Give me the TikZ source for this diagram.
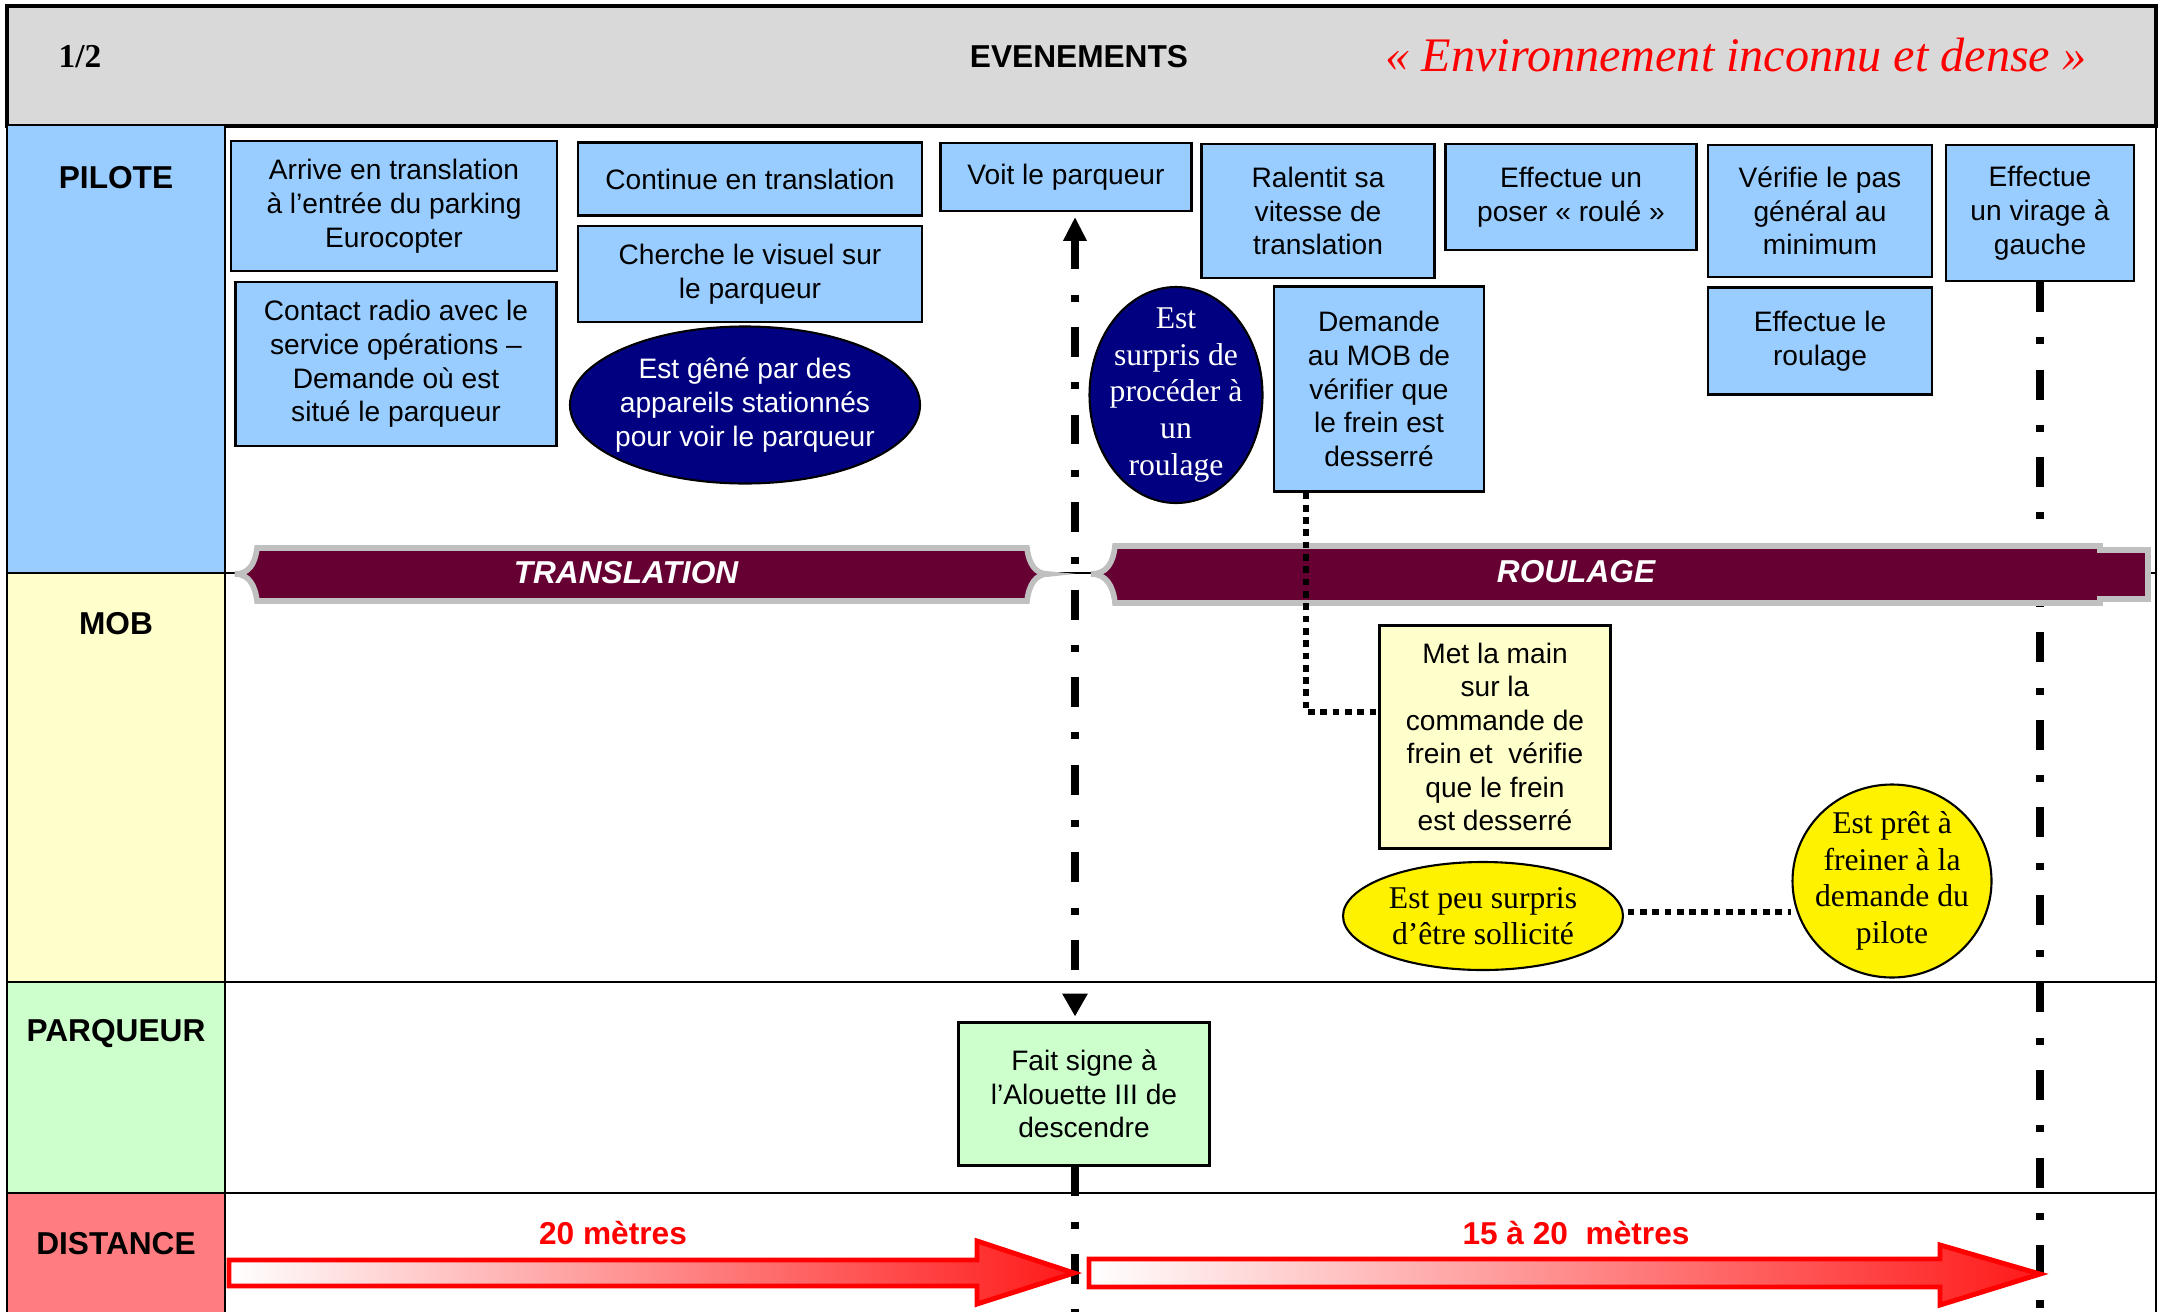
\documentclass[tikz,border=0pt]{standalone}
\usepackage{fontspec}
\setmainfont{Liberation Serif}
\setsansfont{Liberation Sans}
\usetikzlibrary{shapes.geometric,arrows.meta}

\definecolor{entete}{HTML}{D9D9D9}
\definecolor{bleupilote}{HTML}{99CCFF}
\definecolor{jaunemob}{HTML}{FFFFCC}
\definecolor{vertparq}{HTML}{CCFFCC}
\definecolor{rougedist}{HTML}{FF7C80}
\definecolor{marine}{HTML}{000080}
\definecolor{bordeaux}{HTML}{660033}
\definecolor{grisbande}{HTML}{C0C0C0}

\begin{document}
\begin{tikzpicture}[x=0.01cm, y=-0.01cm,
    boxsize/.style 2 args={minimum width=#1*0.01cm, minimum height=#2*0.01cm},
    grille/.style={line width=0.8pt},
    evt/.style={draw=black, line width=0.6pt, inner sep=0pt, align=center,
        font=\sffamily\fontsize{8}{9.6}\selectfont},
    pilote/.style={evt, fill=bleupilote},
    mob/.style={evt, fill=jaunemob, font=\sffamily\fontsize{8}{9.5}\selectfont},
    parq/.style={evt, fill=vertparq},
    bulle/.style={ellipse, draw=black, line width=0.6pt, inner sep=0pt},
    bulletxt/.style={align=center, inner sep=0pt, font=\fontsize{9}{10.4}\selectfont},
    rang/.style={font=\sffamily\bfseries\fontsize{9}{11}\selectfont},
    bande/.style={fill=bordeaux, draw=grisbande, line width=1.6pt},
    bandetxt/.style={text=white, font=\sffamily\bfseries\itshape\fontsize{9}{11}\selectfont},
    jalon/.style={line width=2.2pt, dash pattern=on 8.5pt off 7.2pt on 2pt off 7.2pt},
    pointille/.style={line width=1.6pt, dash pattern=on 1.9pt off 1.6pt},
    fleche/.style={draw=red, line width=1.4pt, line join=miter,
        left color=white, middle color=red!22, right color=red!90},
    disttxt/.style={text=red, font=\sffamily\bfseries\fontsize{9}{11}\selectfont}
]
\useasboundingbox (0,0) rectangle (2161,1312);

    % =================================================================
    % 1. CADRE ET EN-TETE
    % =================================================================
    \coordinate (X1) at (1075,0);
    \coordinate (Bas) at (0,1312);

    \filldraw[fill=entete, line width=1pt] (7,6) rectangle (2156,126);
    \node[font=\bfseries\fontsize{9.5}{11}\selectfont] (page) at (80,57) {1/2};
    \node[rang] (evts) at (1079,57) {EVENEMENTS};
    \node[text=red, font=\itshape\fontsize{13.7}{16}\selectfont] (theme) at (1736,55)
        {« Environnement inconnu et dense »};

    % colonne des acteurs
    \fill[bleupilote] (7,126) rectangle (225,573);
    \fill[jaunemob] (7,573) rectangle (225,982);
    \fill[vertparq] (7,982) rectangle (225,1193);
    \fill[rougedist] (7,1193) rectangle (225,1312);

    \draw[grille] (7,126) -- (7,1312);
    \draw[grille] (225,126) -- (225,1312);
    \draw[grille] (2156,126) -- (2156,1312);
    \foreach \y in {573,982,1193} {
        \draw[grille] (7,\y) -- (2156,\y);
    }

    \node[rang] (pil) at (116,178) {PILOTE};
    \node[rang] (mobl) at (116,624) {MOB};
    \node[rang] (parql) at (116,1034) {PARQUEUR};
    \node[rang] (distl) at (116,1244) {DISTANCE};

    % =================================================================
    % 2. EVENEMENTS DU PILOTE
    % =================================================================
    \node[pilote, boxsize={326}{130}] (arrive) at (394,206)
        {Arrive en translation\\à l’entrée du parking\\Eurocopter};
    \node[pilote, boxsize={321}{164}] (radio) at (396,364)
        {Contact radio avec le\\service opérations –\\Demande où est\\situé le parqueur};
    \node[pilote, boxsize={344}{73}] (cont) at (750,179) {Continue en translation};
    \node[pilote, boxsize={344}{96}] (cherche) at (750,274)
        {Cherche le visuel sur\\le parqueur};
    \node[bulle, fill=marine, boxsize={350}{157}] (gene) at (745,405) {};
    \node[bulletxt, text=white, font=\sffamily\fontsize{8}{9.7}\selectfont] (genetxt)
        at (gene.center) {Est gêné par des\\appareils stationnés\\pour voir le parqueur};
    \node[pilote, boxsize={251}{68}] (voit) at (1066,177) {Voit le parqueur};
    \node[pilote, boxsize={233}{134}] (ralentit) at (1318,211)
        {Ralentit sa\\vitesse de\\translation};
    \node[bulle, fill=marine, boxsize={173}{216}] (surpris) at (1176,395) {};
    \node[bulletxt, text=white] (surpristxt) at (surpris.center)
        {Est\\surpris de\\procéder à\\un\\roulage};
    \node[pilote, boxsize={210}{205}] (demande) at (1379,389)
        {Demande\\au MOB de\\vérifier que\\le frein est\\desserré};
    \node[pilote, boxsize={251}{106}] (poser) at (1571,197)
        {Effectue un\\poser « roulé »};
    \node[pilote, boxsize={224}{132}] (verifie) at (1820,211)
        {Vérifie le pas\\général au\\minimum};
    \node[pilote, boxsize={224}{107}] (roule) at (1820,341)
        {Effectue le\\roulage};
    \node[pilote, boxsize={188}{136}] (virage) at (2040,213)
        {Effectue\\un virage à\\gauche};

    % =================================================================
    % 3. JALON DE DROITE ET BANDES DE PHASE
    % =================================================================
    \draw[jalon] (virage.south) -- (virage.south |- Bas);

    \path[bande] (257,548) -- (1027,548)
        .. controls (1029,565) and (1036,574) .. (1048,574)
        .. controls (1036,574) and (1029,584) .. (1027,601)
        -- (257,601)
        .. controls (255,584) and (248,574) .. (235,574)
        .. controls (248,574) and (255,565) .. (257,548) -- cycle;
    \path[bande] (1115,546) -- (2100,546) -- (2100,550) -- (2148,550) -- (2148,599)
        -- (2100,599) -- (2100,603) -- (1115,603)
        .. controls (1113,585) and (1106,574) .. (1091,574)
        .. controls (1106,574) and (1113,564) .. (1115,546) -- cycle;
    \node[bandetxt] (trans) at (626,573) {TRANSLATION};
    \node[bandetxt] (roul) at (1576,572) {ROULAGE};

    % =================================================================
    % 4. MOB ET PARQUEUR
    % =================================================================
    \node[mob, boxsize={231}{223}] (main) at (1495,737)
        {Met la main\\sur la\\commande de\\frein et \ vérifie\\que le frein\\est desserré};
    \node[bulle, fill=yellow, boxsize={280}{108}] (peu) at (1483,916) {};
    \node[bulletxt] (peutxt) at (peu.center) {Est peu surpris\\d’être sollicité};
    \node[bulle, fill=yellow, boxsize={199}{193}] (pret) at (1892,881) {};
    \node[bulletxt] (prettxt) at (pret.center)
        {Est prêt à\\freiner à la\\demande du\\pilote};
    \node[parq, boxsize={251}{143}] (signe) at (1084,1094)
        {Fait signe à\\l’Alouette III de\\descendre};

    \coordinate (coude) at (1306,712);
    \draw[pointille] (demande.south -| coude) -- (coude) -- (main.west |- coude);
    \draw[pointille] ([xshift=1pt]peu.east |- 0,912) -- (pret.west |- 0,912);

    % jalon central
    \draw[jalon, {Triangle[width=6.3pt,length=6.8pt]}-{Triangle[width=6.8pt,length=6.5pt]},
        shorten <=1.4pt, shorten >=1.4pt] (voit.south -| X1) -- (signe.north -| X1);
    \draw[jalon] (signe.south -| X1) -- (X1 |- Bas);

    % =================================================================
    % 5. DISTANCES
    % =================================================================
    \path[fleche] (229,1260) -- (977,1260) -- (977,1241) -- (1074,1273)
        -- (977,1304) -- (977,1286) -- (229,1286) -- cycle;
    \path[fleche] (1089,1259) -- (1940,1259) -- (1940,1245) -- (2040,1274)
        -- (1940,1305) -- (1940,1287) -- (1089,1287) -- cycle;
    \node[disttxt] (d1) at (613,1233) {20 mètres};
    \node[disttxt] (d2) at (1576,1233) {15 à 20~ mètres};

\end{tikzpicture}
\end{document}
